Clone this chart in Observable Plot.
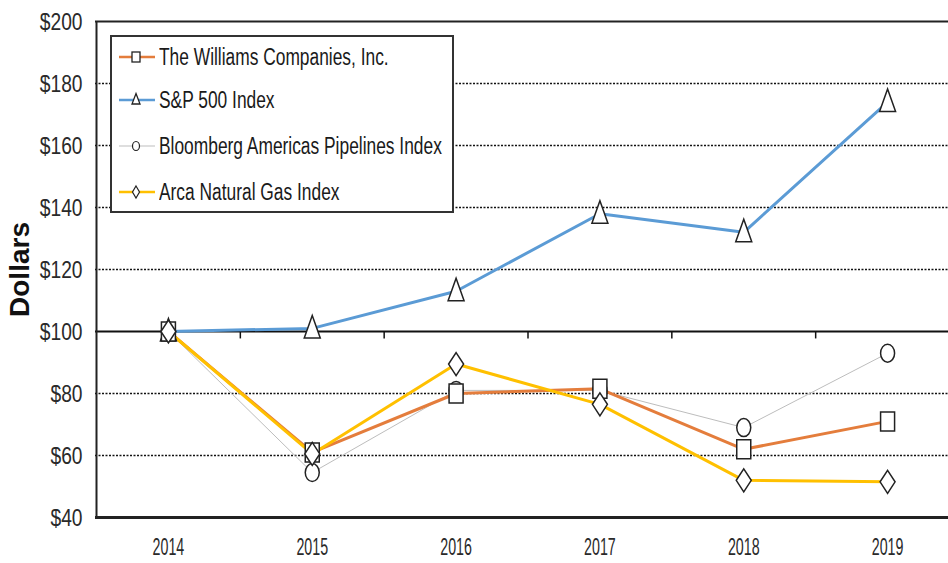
<!DOCTYPE html>
<html>
<head>
<meta charset="utf-8">
<script src="https://cdn.jsdelivr.net/npm/d3@7"></script>
<script src="https://cdn.jsdelivr.net/npm/@observablehq/plot@0.6"></script>
<style>
  html, body { margin: 0; padding: 0; background: #fff; }
  #wrap { position: relative; width: 948px; height: 563px; overflow: hidden; font-family: "Liberation Sans", Arial, sans-serif; }
  #wrap svg.chart { position: absolute; left: 0; top: 0; }
  #legend { position: absolute; left: 110px; top: 35px; width: 340px; height: 174px; border: 2px solid #333; background: #fff; box-sizing: content-box; }
  .row { position: absolute; left: 4px; height: 26px; display: flex; align-items: center; color: #1a1a1a; white-space: nowrap; }
  .row svg { margin-right: 3px; flex: none; }
  .row span { display: inline-block; font-size: 23px; transform: scaleX(0.755); transform-origin: 0 50%; }
</style>
</head>
<body>
<div id="wrap"></div>
<script>
const years = [2014, 2015, 2016, 2017, 2018, 2019];
const williams = [100, 61, 80, 81.5, 62, 71];
const sp500 = [100, 101, 113, 138, 132, 174];
const bloomberg = [100, 54.5, 81, 81, 69, 93];
const arca = [100, 60.5, 89.5, 76.5, 52, 51.5];
const seriesNames = ["The Williams Companies, Inc.", "S&P 500 Index", "Bloomberg Americas Pipelines Index", "Arca Natural Gas Index"];
const seriesColors = ["#E47D3C", "#5B9BD5", "#BDBDBD", "#FFC000"];
const seriesWidths = [3, 3, 1, 3];
const seriesSymbols = ["square", "triangle", "circle", "diamond"];
const yTicks = [40, 60, 80, 100, 120, 140, 160, 180, 200];
const gridValues = [60, 80, 120, 140, 160, 180];
const midTicks = [2014.5, 2015.5, 2016.5, 2017.5, 2018.5, 2019.5];

// Custom (horizontally condensed) marker shapes
function ellipsePath(ctx, rx, ry) {
  const k = 0.5523;
  ctx.moveTo(rx, 0);
  ctx.bezierCurveTo(rx, ry * k, rx * k, ry, 0, ry);
  ctx.bezierCurveTo(-rx * k, ry, -rx, ry * k, -rx, 0);
  ctx.bezierCurveTo(-rx, -ry * k, -rx * k, -ry, 0, -ry);
  ctx.bezierCurveTo(rx * k, -ry, rx, -ry * k, rx, 0);
  ctx.closePath();
}
const shapeDefs = {
  square: {draw(ctx) { ctx.moveTo(-7, -9.5); ctx.lineTo(7, -9.5); ctx.lineTo(7, 9.5); ctx.lineTo(-7, 9.5); ctx.closePath(); }},
  triangle: {draw(ctx) { ctx.moveTo(0, -13); ctx.lineTo(8, 9.5); ctx.lineTo(-8, 9.5); ctx.closePath(); }},
  circle: {draw(ctx) { ellipsePath(ctx, 7, 9); }},
  diamond: {draw(ctx) { ctx.moveTo(0, -11.5); ctx.lineTo(7.5, 0); ctx.lineTo(0, 11.5); ctx.lineTo(-7.5, 0); ctx.closePath(); }}
};

const allSeries = [williams, sp500, bloomberg, arca];
const data = [];
allSeries.forEach((vals, si) => vals.forEach((v, i) => data.push({series: seriesNames[si], si, year: years[i], value: v})));

const lineOrder = [2, 0, 3, 1];
const dotOrder = [1, 2, 0, 3];
const lineMarks = lineOrder.map(si => Plot.line(data.filter(d => d.si === si), {
  x: "year", y: "value", stroke: seriesColors[si], strokeWidth: seriesWidths[si], strokeLinejoin: "round"
}));
const dotMarks = dotOrder.map(si => Plot.dot(data.filter(d => d.si === si), {
  x: "year", y: "value", symbol: shapeDefs[seriesSymbols[si]], r: 8, fill: "white", stroke: "#222", strokeWidth: 1.5
}));

const chart = Plot.plot({
  width: 948,
  height: 563,
  marginLeft: 95,
  marginRight: 0,
  marginTop: 21,
  marginBottom: 46,
  style: {fontFamily: "'Liberation Sans', Arial, sans-serif", background: "white"},
  x: {domain: [2013.5, 2019.5], range: [96, 959]},
  y: {domain: [40, 200], range: [517, 21]},
  marks: [
    Plot.ruleY(gridValues, {stroke: "#111", strokeWidth: 1.3, strokeDasharray: "2,1.5"}),
    Plot.ruleY([100], {stroke: "#111", strokeWidth: 2}),
    Plot.ruleX(midTicks, {x: d => d, y1: 100, y2: 97.6, stroke: "#111", strokeWidth: 1.5}),
    Plot.ruleY([200], {stroke: "#222", strokeWidth: 2}),
    Plot.ruleY([40], {stroke: "#222", strokeWidth: 3}),
    Plot.ruleX([2013.5], {stroke: "#222", strokeWidth: 2}),
    ...lineMarks,
    ...dotMarks,
    Plot.axisY(yTicks, {tickFormat: d => "$" + d, tickSize: 0, tickPadding: 13, fontSize: 24, fill: "#2a2a2a", label: null, dy: 1}),
    Plot.axisX(years, {tickFormat: d => String(d), tickSize: 0, tickPadding: 21, fontSize: 23, fill: "#2a2a2a", label: null}),
    Plot.text(["Dollars"], {frameAnchor: "left", textAnchor: "middle", dx: -75, rotate: -90, fontSize: 28, fontWeight: "bold", fill: "#111", ariaLabel: "ylabel"})
  ]
});
chart.classList.add("chart");
// condense glyphs horizontally, as in the reference
function squeeze(sel, s) {
  d3.select(chart).selectAll(sel).attr("transform", function() { return (this.getAttribute("transform") || "") + " " + s; });
}
squeeze('g[aria-label="y-axis tick label"] text', "scale(0.8,1)");
squeeze('g[aria-label="x-axis tick label"] text', "scale(0.62,1)");
squeeze('g[aria-label="ylabel"] text', "scale(1,0.66)");

const wrap = document.getElementById("wrap");
wrap.appendChild(chart);

// Legend
const legend = document.createElement("div");
legend.id = "legend";
const rowTops = [7, 50, 96, 142];
const symPaths = {
  square: '<rect x="16" y="8" width="8" height="10" fill="white" stroke="#222" stroke-width="1.3"/>',
  triangle: '<path d="M20,6.5 L24,17 L16,17 Z" fill="white" stroke="#222" stroke-width="1.3"/>',
  circle: '<ellipse cx="20" cy="13" rx="3.5" ry="4.5" fill="white" stroke="#222" stroke-width="1.2"/>',
  diamond: '<path d="M20,7 L23.5,13 L20,19 L16.5,13 Z" fill="white" stroke="#222" stroke-width="1.2"/>'
};
seriesNames.forEach((name, si) => {
  const row = document.createElement("div");
  row.className = "row";
  row.style.top = rowTops[si] + "px";
  row.innerHTML = `<svg width="40" height="26"><line x1="3" x2="39" y1="13" y2="13" stroke="${seriesColors[si]}" stroke-width="${seriesWidths[si] === 1 ? 1 : 2.5}"/>${symPaths[seriesSymbols[si]]}</svg><span>${name.replace("&", "&amp;")}</span>`;
  legend.appendChild(row);
});
wrap.appendChild(legend);
</script>
</body>
</html>
